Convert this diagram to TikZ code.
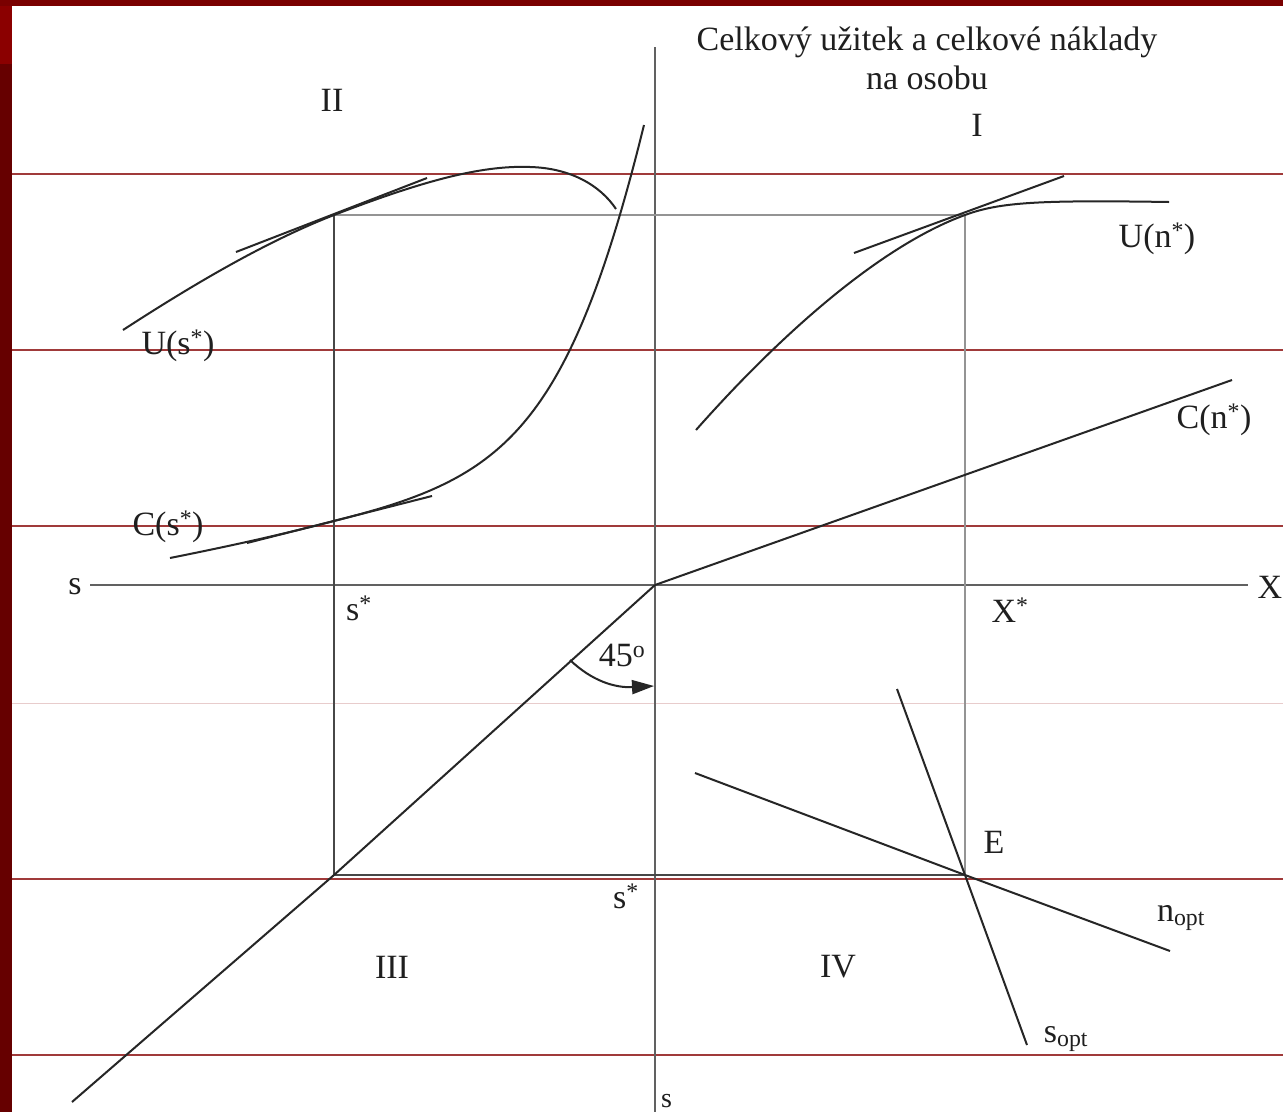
\documentclass[tikz,border=0pt]{standalone}
\usepackage{fontspec}
\setmainfont{Liberation Serif}
\usetikzlibrary{arrows.meta}
\definecolor{frameA}{HTML}{7A0000}
\definecolor{frameB}{HTML}{8B0000}
\definecolor{frameC}{HTML}{660000}
\definecolor{rule}{HTML}{A03A3A}
\definecolor{rulefaint}{HTML}{E8CCCC}
\begin{document}
\begin{tikzpicture}[x=1pt,y=-1pt,
  axisline/.style={draw=black!62, line width=2.2pt},
  boxline/.style={draw=black!72, line width=2.2pt},
  lightline/.style={draw=black!42, line width=2.4pt},
  crv/.style={draw=black!85, line width=2pt},
  lbl/.style={font=\fontsize{34}{38}\selectfont, text=black!88, inner sep=0pt},
  bglineA/.style={draw=rule, line width=1.2pt},
  bglineB/.style={draw=rulefaint, line width=1pt}]
% background and bounding box
\fill[white] (0,0) rectangle (1283,1112);
\useasboundingbox (0,0) rectangle (1283,1112);
\fill[frameC] (0,0) rectangle (12,1112);
\fill[frameB] (0,0) rectangle (12,64);
\fill[frameA] (0,0) rectangle (1283,6);
\foreach \yy in {174,350,526,879,1055} \draw[bglineA] (12,\yy) -- (1283,\yy);
\draw[bglineB] (12,703) -- (1283,703);

% key points
\coordinate (O) at (655,585);
\coordinate (A) at (334,215);
\coordinate (B) at (965,215);
\coordinate (Cc) at (334,875);
\coordinate (E) at (965,875);
\coordinate (Cs) at (334,521);

% axes
\draw[axisline] (655,47) -- (655,1112);
\draw[axisline] (90,585) -- (1248,585);

% rectangle
\draw[boxline] (A) -- (Cc) -- (E);
\draw[lightline] (A) -- (B) -- (E);

% 45 degree line and C(n*) line
\draw[crv] (O) -- (Cc) -- (72,1102);
\draw[crv] (O) -- (1232,380);

% angle arrow
\draw[crv, -{Triangle[length=22pt,width=14pt]}] (570,660) .. controls (592,681) and (615,688) .. (654,686);

% quadrant II curves
\draw[crv] (123,330) .. controls (200,280) and (270,240) .. (A)
  .. controls (420,182) and (480,165) .. (530,167)
  .. controls (570,168) and (600,185) .. (616,209);
\draw[crv] (236,252) -- (427,178);
\draw[crv] (170,558) .. controls (230,546) and (280,535) .. (Cs)
  .. controls (500,479) and (567,437) .. (644,125);
\draw[crv] (247,543) -- (432,496);

% quadrant I curve
\draw[crv] (696,430) .. controls (780,335) and (880,246) .. (B)
  .. controls (1000,202) and (1040,200) .. (1169,202);
\draw[crv] (854,253) -- (1064,176);

% quadrant IV lines
\draw[crv] (695,773) -- (E) -- (1170,951);
\draw[crv] (897,689) -- (E) -- (1027,1045);

% labels
\node[lbl] (title1) at (927,42) {Celkový užitek a celkové náklady};
\node[lbl] (title2) at (927,78) {na osobu};
\node[lbl] (qI) at (977,125) {I};
\node[lbl] (qII) at (332,100) {II};
\node[lbl] (qIII) at (392,967) {III};
\node[lbl] (qIV) at (838,967) {IV};
\node[lbl] (Us) at (178,346) {U(s\textsuperscript{*})};
\node[lbl] (Cs-l) at (168,527) {C(s\textsuperscript{*})};
\node[lbl] (Un) at (1157,239) {U(n\textsuperscript{*})};
\node[lbl] (Cn) at (1214,420) {C(n\textsuperscript{*})};
\node[lbl] (sl) at (75,587) {s};
\node[lbl] (Xl) at (1270,587) {X};
\node[lbl] (sstar1) at (359,608) {s\textsuperscript{*}};
\node[lbl] (Xstar) at (1010,610) {X\textsuperscript{*}};
\node[lbl] (sstar2) at (626,896) {s\textsuperscript{*}};
\node[lbl, anchor=base west, font=\fontsize{28}{32}\selectfont] (sbot) at (661,1107) {s};
\node[lbl] (El) at (994,842) {E};
\node[lbl] (nopt) at (1181,918) {n\textsubscript{opt}};
\node[lbl] (sopt) at (1066,1039) {s\textsubscript{opt}};
\node[lbl] (deg) at (622,655) {45\textsuperscript{o}};
\end{tikzpicture}
\end{document}
